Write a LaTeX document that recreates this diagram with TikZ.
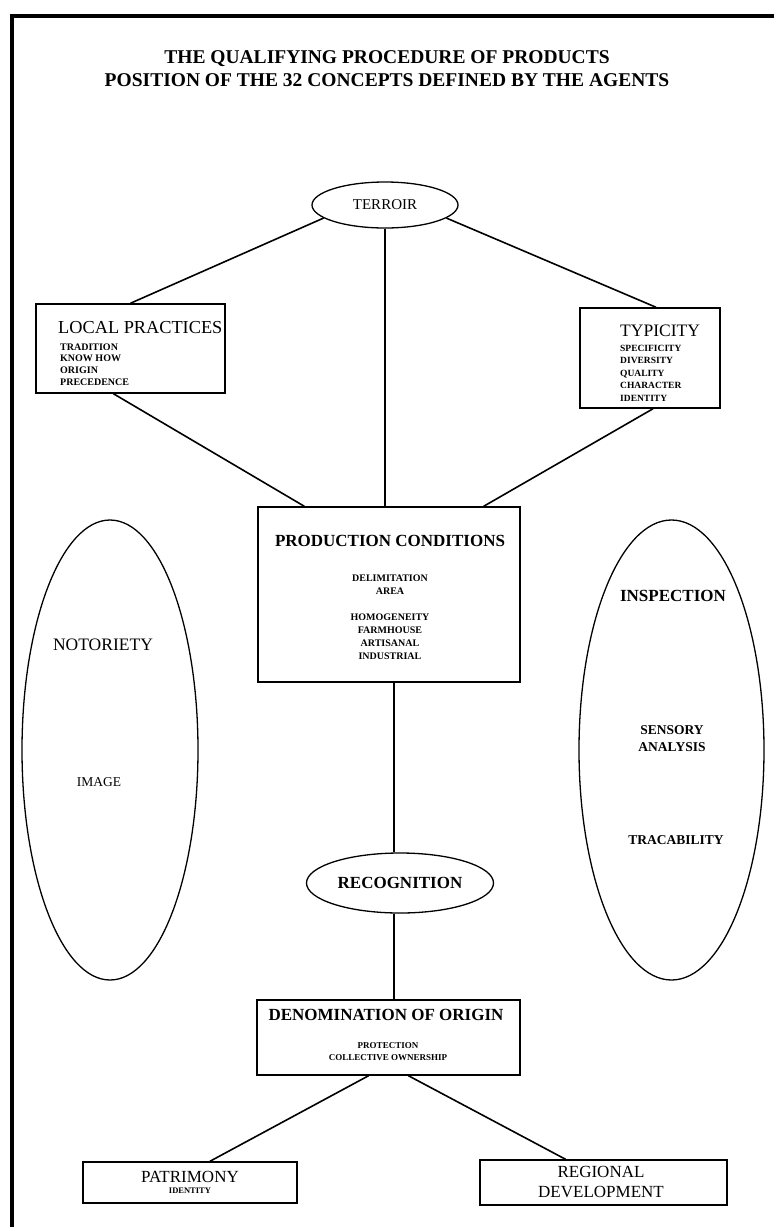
\documentclass[tikz,border=0pt]{standalone}
\usepackage{fontspec}
\setmainfont{Liberation Serif}
\usetikzlibrary{shapes.geometric,positioning}

\begin{document}
\begin{tikzpicture}[
  x=1pt,y=-1pt,
  every node/.style={inner sep=0pt},
  frame/.style={line width=3.4pt},
  box/.style={draw,line width=1.5pt},
  oval/.style={draw,ellipse,line width=1.3pt},
  link/.style={line width=1.6pt},
  ttl/.style={font=\fontsize{19.5}{23}\selectfont\bfseries,align=center},
  hd/.style={font=\fontsize{17.5}{20}\selectfont},
  hdb/.style={font=\fontsize{17}{20}\selectfont\bfseries},
  sub/.style={font=\fontsize{13.5}{17}\selectfont},
  subb/.style={font=\fontsize{13.5}{17}\selectfont\bfseries,align=center},
  items/.style={font=\fontsize{10}{11.7}\selectfont\bfseries,align=left}
]
\useasboundingbox (0,0) rectangle (774,1227);

%% frame
\draw[frame] (12,1227) -- (12,16) -- (774,16);

%% title
\node[ttl] (title) at (387,68.5)
  {THE QUALIFYING PROCEDURE OF PRODUCTS\\POSITION OF THE 32 CONCEPTS DEFINED BY THE AGENTS};

%% top
\node[oval,minimum width=146,minimum height=46,font=\fontsize{15}{15}\selectfont]
  (terroir) at (385,205) {TERROIR};

\node[box,minimum width=189,minimum height=89] (lp) at (130.5,348.5) {};
\node[hd,anchor=west,font=\fontsize{18.3}{20}\selectfont] (lph) at (58,328) {LOCAL PRACTICES};
\node[items,anchor=north west] (lpi) at (60,343.4)
  {TRADITION\\KNOW HOW\\ORIGIN\\PRECEDENCE};

\node[box,minimum width=140,minimum height=100] (typ) at (650,358) {};
\node[hd,anchor=west] (typh) at (620,331) {TYPICITY};
\node[items,anchor=north west,font=\fontsize{9.5}{12.5}\selectfont\bfseries]
  (typi) at (620,344.6) {SPECIFICITY\\DIVERSITY\\QUALITY\\CHARACTER\\IDENTITY};

%% middle
\node[box,minimum width=262,minimum height=175] (pc) at (389,594.5) {};
\node[hdb] (pch) at (390,541) {PRODUCTION CONDITIONS};
\node[items,align=center,anchor=north,font=\fontsize{10}{13}\selectfont\bfseries]
  (pci) at (390,574.7)
  {DELIMITATION\\AREA\\[13pt]HOMOGENEITY\\FARMHOUSE\\ARTISANAL\\INDUSTRIAL};

\node[oval,minimum width=176,minimum height=460] (not) at (110,750) {};
\node[hd] (noth) at (103,645) {NOTORIETY};
\node[sub] (noti) at (99,782) {IMAGE};

\node[oval,minimum width=185,minimum height=460] (insp) at (671.5,750) {};
\node[hdb] (insph) at (673,596) {INSPECTION};
\node[subb] (inspa) at (672,738.5) {SENSORY\\ANALYSIS};
\node[subb] (inspb) at (676,840) {TRACABILITY};

\node[oval,minimum width=187,minimum height=60,font=\fontsize{17}{17}\selectfont\bfseries]
  (rec) at (400,883) {RECOGNITION};

%% bottom
\node[box,minimum width=263,minimum height=75] (den) at (388.5,1037.5) {};
\node[hdb] (denh) at (386,1015) {DENOMINATION OF ORIGIN};
\node[items,align=center,anchor=north,font=\fontsize{9}{12}\selectfont\bfseries]
  (deni) at (388,1042) {PROTECTION\\COLLECTIVE OWNERSHIP};

\node[box,minimum width=214,minimum height=41] (pat) at (190,1182.5) {};
\node[hd,font=\fontsize{17}{20}\selectfont] (path) at (190,1177) {PATRIMONY};
\node[items,font=\fontsize{8.5}{10}\selectfont\bfseries] (pati) at (190,1191) {IDENTITY};

\node[box,minimum width=247,minimum height=45] (reg) at (603.5,1182.5) {};
\node[hd,align=center,font=\fontsize{17}{20}\selectfont] (regh) at (601,1182)
  {REGIONAL\\DEVELOPMENT};

%% connectors
\draw[link] (terroir.192) -- (lp.north);
\draw[link] (terroir.south) -- (terroir.south |- pc.north);
\draw[link] (terroir.348) -- ([xshift=6pt]typ.north);
\draw[link] ([xshift=-17pt]lp.south) -- ([xshift=47pt]pc.north west);
\draw[link] ([xshift=3pt]typ.south) -- ([xshift=-37pt]pc.north east);
\draw[link] ([xshift=5pt]pc.south) -- ([xshift=-6pt]rec.north);
\draw[link] ([xshift=-6pt]rec.south) -- ([xshift=5.5pt]den.north);
\draw[link] ([xshift=-20pt]den.south) -- ([xshift=20pt]pat.north);
\draw[link] ([xshift=20pt]den.south) -- ([xshift=-38pt]reg.north);

\end{tikzpicture}
\end{document}
